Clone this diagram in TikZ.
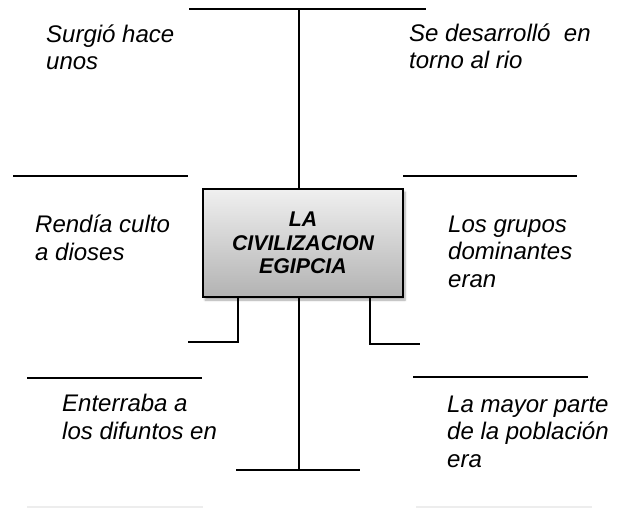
\documentclass[tikz,border=0pt]{standalone}
\usepackage{fontspec}
\setmainfont{Liberation Sans}
\usetikzlibrary{shadows.blur}
\begin{document}
\begin{tikzpicture}[x=1pt,y=-1pt,
  ln/.style={line width=1.4pt},
  faint/.style={line width=1.4pt, draw=black!7},
  lbl/.style={anchor=base west, inner sep=0pt, align=left,
    font=\fontsize{24}{27.3}\selectfont\itshape},
  titlebox/.style={draw, line width=1.4pt, minimum width=200pt, minimum height=108pt,
    top color=black!6, bottom color=black!30, align=center,
    font=\fontsize{21.3}{23.5}\selectfont\bfseries\itshape,
    blur shadow={shadow xshift=2pt, shadow yshift=-3pt, shadow blur steps=6, shadow opacity=35}}]
\useasboundingbox (0,0) rectangle (623,508);

% central box
\node[titlebox] (box) at (303,243) {LA\\CIVILIZACION\\EGIPCIA};

% top T
\coordinate (tl) at (189,9);
\coordinate (tr) at (426,9);
\coordinate (tm) at (299,9);
\draw[ln] (tl) -- (tr);
\draw[ln] (tm) -- (tm |- box.north);

% bottom T
\coordinate (bl) at (236,470);
\coordinate (br) at (360,470);
\coordinate (bm) at (299,470);
\draw[ln] (bl) -- (br);
\draw[ln] (bm |- box.south) -- (bm);

% lower left branch
\coordinate (lb1) at (238,297);
\coordinate (lb2) at (238,342);
\coordinate (lb3) at (188,342);
\draw[ln] (lb1) -- (lb2) -- (lb3);

% lower right branch
\coordinate (rb1) at (370,297);
\coordinate (rb2) at (370,344);
\coordinate (rb3) at (420,344);
\draw[ln] (rb1) -- (rb2) -- (rb3);

% answer lines
\coordinate (ml1) at (13,176);
\coordinate (ml2) at (188,176);
\draw[ln] (ml1) -- (ml2);
\coordinate (mr1) at (403,176);
\coordinate (mr2) at (577,176);
\draw[ln] (mr1) -- (mr2);
\coordinate (ll1) at (27,378);
\coordinate (ll2) at (202,378);
\draw[ln] (ll1) -- (ll2);
\coordinate (lr1) at (413,377);
\coordinate (lr2) at (588,377);
\draw[ln] (lr1) -- (lr2);
\coordinate (fl1) at (27,507);
\coordinate (fl2) at (203,507);
\draw[faint] (fl1) -- (fl2);
\coordinate (fr1) at (416,507);
\coordinate (fr2) at (592,507);
\draw[faint] (fr1) -- (fr2);

% labels (anchored at the baseline of their last line)
\node[lbl] (t1) at (46,70) {Surgió hace\\unos};
\node[lbl] (t2) at (409,69) {Se desarrolló\ \ en\\torno al rio};
\node[lbl] (t3) at (35,260) {Rendía culto\\a dioses};
\node[lbl] (t4) at (448,287) {Los grupos\\dominantes\\eran};
\node[lbl] (t5) at (62,439) {Enterraba a\\los difuntos en};
\node[lbl] (t6) at (447,467) {La mayor parte\\de la población\\era};
\end{tikzpicture}
\end{document}
